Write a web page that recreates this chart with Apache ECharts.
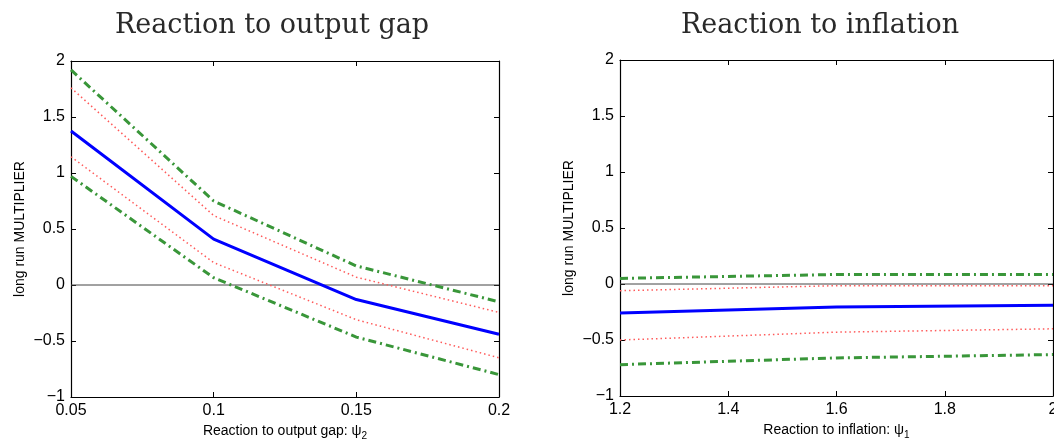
<!DOCTYPE html>
<html>
<head>
<meta charset="utf-8">
<script src="https://cdn.jsdelivr.net/npm/echarts@6/dist/echarts.min.js"></script>
<style>
html,body{margin:0;padding:0;background:#fff;}
#c{width:1054px;height:440px;}
</style>
</head>
<body>
<div id="c"></div>
<script>
// ---- data: reaction to output gap (psi_2) ----
const gapX = [0.05, 0.1, 0.15, 0.2];
const gapMean = [1.375, 0.41, -0.13, -0.44];
const gapUpper68 = [1.76, 0.62, 0.07, -0.245];
const gapLower68 = [1.145, 0.2, -0.31, -0.65];
const gapUpper90 = [1.92, 0.75, 0.17, -0.15];
const gapLower90 = [0.97, 0.065, -0.465, -0.80];

// ---- data: reaction to inflation (psi_1) ----
const inflX = [1.2, 1.6, 2.0];
const inflMean = [-0.26, -0.205, -0.19];
const inflUpper68 = [-0.06, -0.015, -0.015];
const inflLower68 = [-0.5, -0.43, -0.4];
const inflUpper90 = [0.05, 0.085, 0.085];
const inflLower90 = [-0.72, -0.66, -0.63];

// ---- tick labels ----
const gapTicks = {0.05: '0.05', 0.1: '0.1', 0.15: '0.15', 0.2: '0.2'};
const inflTicks = {1.2: '1.2', 1.4: '1.4', 1.6: '1.6', 1.8: '1.8', 2: '2'};
const yTicks = {'-1': '\u22121', '-0.5': '\u22120.5', '0': '0', '0.5': '0.5', '1': '1', '1.5': '1.5', '2': '2'};
const titles = ['Reaction to output gap', 'Reaction to inflation'];
const yName = 'long run MULTIPLIER';

const pair = (xs, ys) => xs.map((x, i) => [x, ys[i]]);
const fmt = (map) => (v) => {
  const k = String(Math.round(v * 1000) / 1000);
  return map[k] !== undefined ? map[k] : k;
};

const tickFont = {fontFamily: 'Liberation Sans', fontSize: 16, color: '#000'};
const frame = {lineStyle: {color: '#000', width: 1.2}};

function xAxes(gi, min, max, interval, map, name) {
  return [
    {type: 'value', gridIndex: gi, min, max, interval, position: 'bottom',
     axisLine: {show: true, onZero: false, ...frame},
     axisTick: {show: true, inside: true, length: 5, lineStyle: {color: '#000'}},
     axisLabel: {...tickFont, margin: 6, formatter: fmt(map), showMinLabel: true, showMaxLabel: true,
                 alignMinLabel: 'center', alignMaxLabel: 'center', hideOverlap: false},
     splitLine: {show: false},
     name, nameLocation: 'middle', nameGap: 25,
     nameTextStyle: {fontFamily: 'Liberation Sans', fontSize: 14, color: '#000',
       rich: {a: {fontFamily: 'Liberation Sans', fontSize: 14, color: '#000'},
              s: {fontFamily: 'Liberation Sans', fontSize: 10, color: '#000', padding: [9, 0, 0, 0]}}}},
    {type: 'value', gridIndex: gi, min, max, interval, position: 'top',
     axisLine: {show: true, onZero: false, ...frame},
     axisTick: {show: true, inside: true, length: 5, lineStyle: {color: '#000'}},
     axisLabel: {show: false}, splitLine: {show: false}}
  ];
}
function yAxes(gi) {
  return [
    {type: 'value', gridIndex: gi, min: -1, max: 2, interval: 0.5, position: 'left',
     axisLine: {show: true, onZero: false, ...frame},
     axisTick: {show: true, inside: true, length: 5, lineStyle: {color: '#000'}},
     axisLabel: {...tickFont, margin: 6, formatter: fmt(yTicks)},
     splitLine: {show: false},
     name: yName, nameLocation: 'middle', nameGap: 44, nameRotate: 90,
     nameTextStyle: {fontFamily: 'Liberation Sans', fontSize: 14, color: '#000'}},
    {type: 'value', gridIndex: gi, min: -1, max: 2, interval: 0.5, position: 'right',
     axisLine: {show: true, onZero: false, ...frame},
     axisTick: {show: true, inside: true, length: 5, lineStyle: {color: '#000'}},
     axisLabel: {show: false}, splitLine: {show: false}}
  ];
}

function lineSeries(xi, yi, data, style, z) {
  return {type: 'line', xAxisIndex: xi, yAxisIndex: yi, data, symbol: 'none',
          lineStyle: style, z: z || 3, silent: true, animation: false};
}
const meanStyle = {color: '#0000ff', width: 3, type: 'solid'};
const s68 = {color: '#ff5a5a', width: 1.5, type: [1.5, 3]};
const s90 = {color: '#399639', width: 3, type: [8, 4, 2, 4]};
const zeroStyle = {color: '#444', width: 1, type: 'solid'};

function panel(xi, yi, xs, mean, u68, l68, u90, l90) {
  const x0 = xs[0], x1 = xs[xs.length - 1];
  return [
    lineSeries(xi, yi, [[x0, 0], [x1, 0]], zeroStyle, 2),
    lineSeries(xi, yi, pair(xs, u90), s90),
    lineSeries(xi, yi, pair(xs, l90), s90),
    lineSeries(xi, yi, pair(xs, u68), s68),
    lineSeries(xi, yi, pair(xs, l68), s68),
    lineSeries(xi, yi, pair(xs, mean), meanStyle, 4)
  ];
}

const chart = echarts.init(document.getElementById('c'), null, {renderer: 'canvas'});
chart.setOption({
  backgroundColor: '#fff',
  animation: false,
  title: [
    {text: titles[0], left: 267, top: 7, textAlign: 'center',
     textStyle: {fontFamily: 'DejaVu Serif', fontSize: 27, fontWeight: 'normal', color: '#2a2a2a'}},
    {text: titles[1], left: 815, top: 7, textAlign: 'center',
     textStyle: {fontFamily: 'DejaVu Serif', fontSize: 27, fontWeight: 'normal', color: '#2a2a2a'}}
  ],
  grid: [
    {left: 71, top: 61, width: 428, height: 336, containLabel: false, outerBoundsMode: 'none'},
    {left: 620, top: 60, width: 433, height: 336, containLabel: false, outerBoundsMode: 'none'}
  ],
  xAxis: [
    ...xAxes(0, 0.05, 0.2, 0.05, gapTicks, '{a|Reaction to output gap: \u03c8}{s|2}'),
    ...xAxes(1, 1.2, 2, 0.2, inflTicks, '{a|Reaction to inflation: \u03c8}{s|1}')
  ],
  yAxis: [...yAxes(0), ...yAxes(1)],
  series: [
    ...panel(0, 0, gapX, gapMean, gapUpper68, gapLower68, gapUpper90, gapLower90),
    ...panel(2, 2, inflX, inflMean, inflUpper68, inflLower68, inflUpper90, inflLower90)
  ]
});
</script>
</body>
</html>
